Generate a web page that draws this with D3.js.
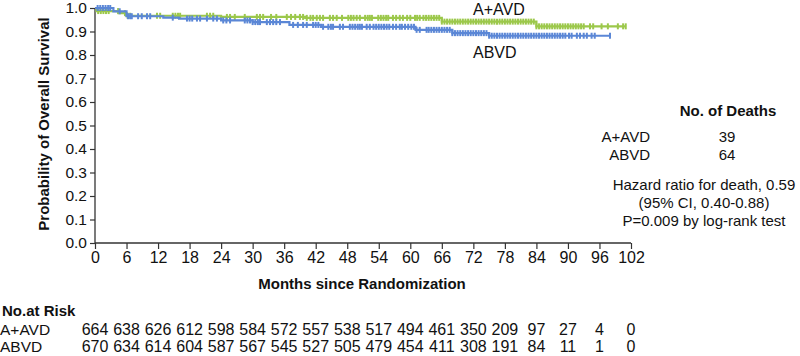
<!DOCTYPE html>
<html><head><meta charset="utf-8">
<script src="https://cdn.jsdelivr.net/npm/d3@7"></script>
<style>
html,body{margin:0;padding:0;background:#fff;}
svg{display:block;font-family:"Liberation Sans",Arial,sans-serif;}
</style></head>
<body>
<svg id="c" width="800" height="356"></svg>
<script>
// ---- data ----
const months = [0,6,12,18,24,30,36,42,48,54,60,66,72,78,84,90,96,102];
const yTicks = [0,0.1,0.2,0.3,0.4,0.5,0.6,0.7,0.8,0.9,1.0];

const aavdStepTimes = [0, 0.3, 4.5, 6, 24, 40, 66, 84, 101];
const aavdStepSurv  = [1.0, 0.987, 0.978, 0.967, 0.962, 0.958, 0.942, 0.922, 0.922];
const abvdStepTimes = [0, 3.5, 6, 13, 16, 24, 30, 37, 43, 61, 68, 75, 98];
const abvdStepSurv  = [1.0, 0.986, 0.965, 0.959, 0.955, 0.947, 0.94, 0.928, 0.92, 0.907, 0.893, 0.882, 0.882];

const aavdCensor = [0.6,1.1,1.6,2.1,2.6,4.4,5.7,6.2,6.7,11.8,12.4,14.8,15.3,15.8,16.2,21.3,21.9,22.5,25.1,25.7,26.6,28.5,
  30.8,31.4,32,33.5,34.5,36.5,37.3,38.1,39,39.6,40.3,41,41.5,42.2,42.8,43.4,44.7,45.3,46,47,48.2,48.7,49.2,49.8,50.4,
  51.4,51.9,52.3,52.7,53.9,54.4,54.9,55.4,55.8,56.7,57.3,58,58.6,59.4,60,60.9,61.3,61.8,
  62.5,63,63.5,64,64.5,65,65.5,66,66.5,67,67.5,68,68.5,69,69.5,70,70.5,71,71.5,72,72.5,73,73.5,74,74.5,75,75.5,
  76,76.5,77,77.5,78,78.5,79,79.5,80,80.5,81,81.5,82,82.5,83,83.5,84,84.5,85,85.5,86,86.5,87,87.5,88,88.5,89,
  89.5,90,90.5,91,91.5,92,92.5,93,94.2,94.8,96.4,97.6,99.5,100.5,101];
const abvdCensor = [0.5,1,1.5,2,2.5,2.9,4.7,6.3,6.7,7,8.2,8.9,9.9,10.5,14.8,17.5,18,18.5,19.4,20,21.3,22.5,23.2,24.4,25,25.7,
  28.5,29,29.5,30,30.5,31,31.4,32.7,33.3,33.9,34.5,35.2,37.7,38.6,39.6,40.3,41.5,42,42.5,43.4,44.4,44.9,45.3,46.6,47.2,
  48.5,49,49.5,50,50.4,50.8,51.7,52.3,53,53.5,54,54.5,55,55.5,56,56.7,57.3,58,58.4,59,59.6,60.2,60.7,61.2,61.8,63.1,
  63.5,64,64.5,65,65.5,66,66.5,67,67.5,68,68.5,69,69.5,70,70.5,71,71.5,72,72.5,73,73.5,74,74.5,75,75.5,76,76.5,
  77,77.5,78,78.5,79,79.5,80,80.5,81,81.5,82,82.5,83,83.5,84,84.5,85,85.5,86,86.5,87,87.5,88,88.5,89,89.5,
  90.2,90.7,91.7,92.3,93,93.6,94.5,95.1,98];

const riskAAVD = [664,638,626,612,598,584,572,557,538,517,494,461,350,209,97,27,4,0];
const riskABVD = [670,634,614,604,587,567,545,527,505,479,454,411,308,191,84,11,1,0];

const deathArms = ["A+AVD","ABVD"];
const deathCounts = [39,64];
const statsLines = ["Hazard ratio for death, 0.59","(95% CI, 0.40-0.88)","P=0.009 by log-rank test"];

const GREEN = "#9cc84b", BLUE = "#5b87d6", AXIS = "#333";

// ---- chart ----
const svg = d3.select("#c");
const x = d3.scaleLinear().domain([0,102]).range([95,631]);
const y = d3.scaleLinear().domain([0,1]).range([243,8]);

// axes
const xAxis = d3.axisBottom(x).tickValues(months).tickSize(6).tickPadding(3).tickFormat(d3.format("d"));
const gx = svg.append("g").attr("transform","translate(0,243)").call(xAxis);
const yAxis = d3.axisLeft(y).tickValues(yTicks).tickSize(5).tickPadding(3).tickFormat(d3.format(".1f"));
const gy = svg.append("g").attr("transform","translate(95,0)").call(yAxis);
[gx,gy].forEach(g=>{
  g.select(".domain").attr("stroke",AXIS).attr("stroke-width",1.3);
  g.selectAll(".tick line").attr("stroke",AXIS).attr("stroke-width",1.2);
  g.selectAll(".tick text").attr("fill","#111").attr("font-family","Liberation Sans, Arial, sans-serif");
});
gx.selectAll(".tick text").attr("font-size",16);
gy.selectAll(".tick text").attr("font-size",15.5);
gx.select(".domain").attr("d", `M${x(0)},0H${x(102)}`);
gy.select(".domain").attr("d", `M0,${y(1)}V${y(0)}`);

// titles
svg.append("text").attr("x",362).attr("y",289).attr("text-anchor","middle")
  .attr("font-weight","bold").attr("font-size",15).attr("fill","#111").text("Months since Randomization");
svg.append("text").attr("transform","translate(49,124) rotate(-90)").attr("text-anchor","middle")
  .attr("font-weight","bold").attr("font-size",15).attr("fill","#111").text("Probability of Overall Survival");

// curves
function drawArm(times, surv, censor, color){
  const pts = times.map((t,i)=>[t,surv[i]]);
  const line = d3.line().x(d=>x(d[0])).y(d=>y(d[1])).curve(d3.curveStepAfter);
  svg.append("path").datum(pts).attr("d",line).attr("fill","none")
    .attr("stroke",color).attr("stroke-width",2.2);
  const bis = d3.bisector(d=>d).right;
  const sAt = t => surv[Math.max(0,bis(times,t)-1)];
  svg.append("g").selectAll("line").data(censor).join("line")
    .attr("x1",d=>x(d)).attr("x2",d=>x(d))
    .attr("y1",d=>y(sAt(d))-3).attr("y2",d=>y(sAt(d))+3)
    .attr("stroke",color).attr("stroke-width",2);
}
drawArm(aavdStepTimes, aavdStepSurv, aavdCensor, GREEN);
drawArm(abvdStepTimes, abvdStepSurv, abvdCensor, BLUE);

// curve labels
svg.append("text").attr("x",473).attr("y",15).attr("font-size",16).attr("fill","#111").text("A+AVD");
svg.append("text").attr("x",473).attr("y",58).attr("font-size",16).attr("fill","#111").text("ABVD");

// deaths table
svg.append("text").attr("x",728).attr("y",116).attr("text-anchor","middle")
  .attr("font-weight","bold").attr("font-size",15).attr("fill","#111").text("No. of Deaths");
deathArms.forEach((a,i)=>{
  svg.append("text").attr("x",650).attr("y",142+i*18).attr("text-anchor","end")
    .attr("font-size",15).attr("fill","#111").text(a);
  svg.append("text").attr("x",727).attr("y",142+i*18).attr("text-anchor","middle")
    .attr("font-size",15).attr("fill","#111").text(deathCounts[i]);
});
statsLines.forEach((s,i)=>{
  svg.append("text").attr("x",704).attr("y",190+i*18).attr("text-anchor","middle")
    .attr("font-size",15).attr("fill","#111").text(s);
});

// risk table
svg.append("text").attr("x",2).attr("y",316).attr("font-weight","bold").attr("font-size",15)
  .attr("fill","#111").text("No.at Risk");
[["A+AVD",riskAAVD,335],["ABVD",riskABVD,352]].forEach(([lab,vals,yy])=>{
  svg.append("text").attr("x",0).attr("y",yy).attr("font-size",15.5).attr("fill","#111").text(lab);
  svg.append("g").selectAll("text").data(vals).join("text")
    .attr("x",(d,i)=>x(months[i])).attr("y",yy).attr("text-anchor","middle")
    .attr("font-size",16).attr("fill","#111").text(d=>d);
});
</script>
</body></html>
